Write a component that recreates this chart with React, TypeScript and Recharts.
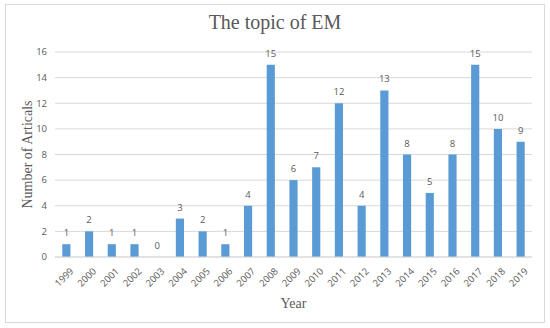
import React from 'react';
import { ComposedChart, Bar, Line, XAxis, YAxis, CartesianGrid, LabelList, Label } from 'recharts';

const years = ['1999','2000','2001','2002','2003','2004','2005','2006','2007','2008','2009','2010','2011','2012','2013','2014','2015','2016','2017','2018','2019'];
const articles = [1,2,1,1,0,3,2,1,4,15,6,7,12,4,13,8,5,8,15,10,9];
const yTicks = [0,2,4,6,8,10,12,14,16];

const data = years.map((y, i) => ({ year: y, count: articles[i] }));

const XTick = (props: any) => {
  const { x, y, payload } = props;
  return (
    <g transform={`translate(${x + 5},${y + 4})`}>
      <text x={0} y={0} dy={4} textAnchor="end" transform="rotate(-45)" fontSize={9.5} fill="#595959" fontFamily="'Open Sans', sans-serif">
        {payload.value}
      </text>
    </g>
  );
};

export default function App() {
  return (
    <div style={{ position: 'absolute', left: 0, top: 0, width: 550, height: 328, background: '#fff' }}>
      <div style={{ position: 'absolute', left: 5, top: 4, width: 538, height: 317, border: '1px solid #d9d9d9' }} />
      <div style={{ position: 'absolute', left: 0, top: 11, width: 550, textAlign: 'center', fontFamily: "'Liberation Serif', serif", fontSize: 20, color: '#595959' }}>
        The topic of EM
      </div>
      <div style={{ position: 'absolute', left: 0, top: 0 }}>
        <ComposedChart width={550} height={328} data={data} margin={{ top: 52, right: 18, left: 0, bottom: 0 }} barCategoryGap="68%">
          <CartesianGrid vertical={false} stroke="#d9d9d9" />
          <XAxis dataKey="year" height={71} interval={0} tickLine={false} axisLine={{ stroke: '#d9d9d9' }} tick={<XTick />}>
            <Label value="Year" position="insideBottom" offset={20} style={{ fontFamily: "'Liberation Serif', serif", fontSize: 14, fill: '#595959' }} />
          </XAxis>
          <YAxis width={55} domain={[0, 16]} ticks={yTicks} axisLine={false} tickLine={false} tick={{ fontSize: 9.5, fill: '#595959', fontFamily: "'Open Sans', sans-serif" }}>
            <Label value="Number of Articals" angle={-90} position="insideLeft" offset={27} style={{ textAnchor: 'middle', fontFamily: "'Liberation Serif', serif", fontSize: 14, fill: '#595959' }} />
          </YAxis>
          <Bar dataKey="count" fill="#5b9bd5" isAnimationActive={false} />
          <Line dataKey="count" stroke="none" dot={false} activeDot={false} isAnimationActive={false}>
            <LabelList dataKey="count" position="top" offset={8} style={{ fontSize: 9.5, fill: '#595959', fontFamily: "'Open Sans', sans-serif" }} />
          </Line>
        </ComposedChart>
      </div>
    </div>
  );
}
